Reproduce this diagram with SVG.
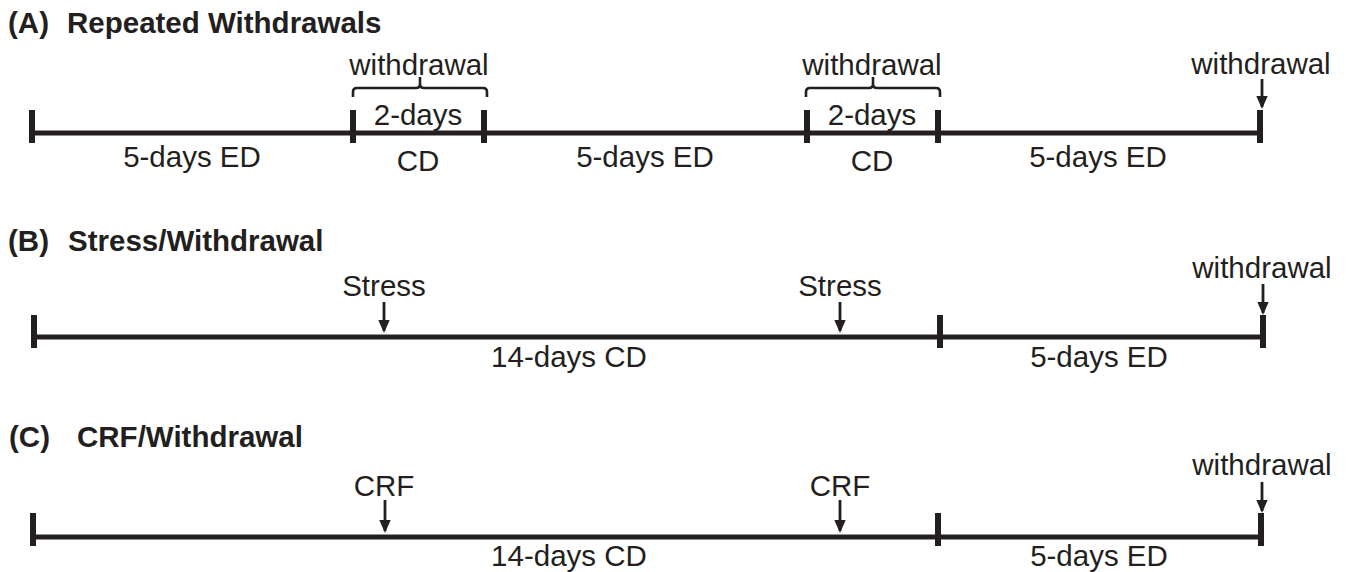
<svg xmlns="http://www.w3.org/2000/svg" width="1350" height="572" viewBox="0 0 1350 572">
<style>
  text { font-family: "Liberation Sans", Arial, sans-serif; fill: #231f20; }
  .title { font-size: 29.5px; font-weight: bold; }
  .lbl { font-size: 29.5px; text-anchor: middle; }
  .axis { stroke: #231f20; stroke-width: 5; fill: none; }
  .tick { stroke: #231f20; stroke-width: 6; fill: none; }
  .brace { stroke: #231f20; stroke-width: 2.6; fill: none; }
  .arrow { stroke: #231f20; stroke-width: 2.8; fill: none; marker-end: url(#head); }
</style>
<defs>
  <marker id="head" markerUnits="userSpaceOnUse" viewBox="0 0 13 12" markerWidth="13" markerHeight="12" refX="11" refY="6" orient="auto">
    <path d="M0,0.3 L13,6 L0,11.7 z" fill="#231f20"/>
  </marker>
</defs>
<rect width="1350" height="572" fill="#ffffff"/>

<!-- Panel A -->
<g id="panelA">
  <text class="title" x="8" y="33">(A)</text>
  <text class="title" x="67" y="33">Repeated Withdrawals</text>
  <g id="A-timeline">
    <line class="axis" x1="32" y1="133" x2="1260" y2="133"/>
    <line class="tick" x1="32" y1="110" x2="32" y2="143"/>
    <line class="tick" x1="353" y1="110" x2="353" y2="143"/>
    <line class="tick" x1="484" y1="110" x2="484" y2="143"/>
    <line class="tick" x1="807" y1="110" x2="807" y2="143"/>
    <line class="tick" x1="938" y1="110" x2="938" y2="143"/>
    <line class="tick" x1="1260" y1="110" x2="1260" y2="143"/>
  </g>
  <g id="A-withdrawal1">
    <path class="brace" d="M353,97 L353,92 Q353,88 357,88 L416,88 Q420,88 420,84 L420,77 M420,84 Q420,88 424,88 L483,88 Q487,88 487,92 L487,97"/>
    <text class="lbl" x="419" y="75">withdrawal</text>
    <text class="lbl" x="418" y="125">2-days</text>
    <text class="lbl" x="418" y="171">CD</text>
  </g>
  <g id="A-withdrawal2">
    <path class="brace" d="M806,97 L806,92 Q806,88 810,88 L869,88 Q873,88 873,84 L873,77 M873,84 Q873,88 877,88 L936,88 Q940,88 940,92 L940,97"/>
    <text class="lbl" x="872" y="75">withdrawal</text>
    <text class="lbl" x="872" y="125">2-days</text>
    <text class="lbl" x="872" y="171">CD</text>
  </g>
  <g id="A-ed">
    <text class="lbl" x="192" y="167">5-days ED</text>
    <text class="lbl" x="645" y="167">5-days ED</text>
    <text class="lbl" x="1098" y="167">5-days ED</text>
  </g>
  <g id="A-withdrawal3">
    <text class="lbl" x="1261" y="74">withdrawal</text>
  </g>
</g>

<!-- Panel B -->
<g id="panelB">
  <text class="title" x="8" y="251">(B)</text>
  <text class="title" x="68" y="251">Stress/Withdrawal</text>
  <g id="B-timeline">
    <line class="axis" x1="34" y1="337" x2="1263" y2="337"/>
    <line class="tick" x1="34" y1="315" x2="34" y2="348"/>
    <line class="tick" x1="940" y1="315" x2="940" y2="348"/>
    <line class="tick" x1="1263" y1="315" x2="1263" y2="348"/>
  </g>
  <g id="B-stress1"><text class="lbl" x="384" y="296">Stress</text></g>
  <g id="B-stress2"><text class="lbl" x="840" y="296">Stress</text></g>
  <g id="B-withdrawal"><text class="lbl" x="1262" y="278">withdrawal</text></g>
  <text class="lbl" x="569" y="367">14-days CD</text>
  <text class="lbl" x="1099" y="367">5-days ED</text>
</g>

<!-- Panel C -->
<g id="panelC">
  <text class="title" x="9" y="447">(C)</text>
  <text class="title" x="77" y="447">CRF/Withdrawal</text>
  <g id="C-timeline">
    <line class="axis" x1="33" y1="537" x2="1261" y2="537"/>
    <line class="tick" x1="33" y1="513" x2="33" y2="546"/>
    <line class="tick" x1="938" y1="513" x2="938" y2="546"/>
    <line class="tick" x1="1261" y1="513" x2="1261" y2="546"/>
  </g>
  <g id="C-crf1"><text class="lbl" x="384" y="496">CRF</text></g>
  <g id="C-crf2"><text class="lbl" x="840" y="496">CRF</text></g>
  <g id="C-withdrawal"><text class="lbl" x="1262" y="475">withdrawal</text></g>
  <text class="lbl" x="569" y="566">14-days CD</text>
  <text class="lbl" x="1099" y="566">5-days ED</text>
</g>

<!-- Connectors (arrows) -->
<g id="connectors">
  <line class="arrow" x1="1262" y1="79" x2="1262" y2="107"/>
  <line class="arrow" x1="384" y1="302" x2="384" y2="331"/>
  <line class="arrow" x1="840" y1="302" x2="840" y2="331"/>
  <line class="arrow" x1="1263" y1="284" x2="1263" y2="313"/>
  <line class="arrow" x1="385" y1="500" x2="385" y2="531"/>
  <line class="arrow" x1="840" y1="500" x2="840" y2="531"/>
  <line class="arrow" x1="1262" y1="482" x2="1262" y2="511"/>
</g>
</svg>
